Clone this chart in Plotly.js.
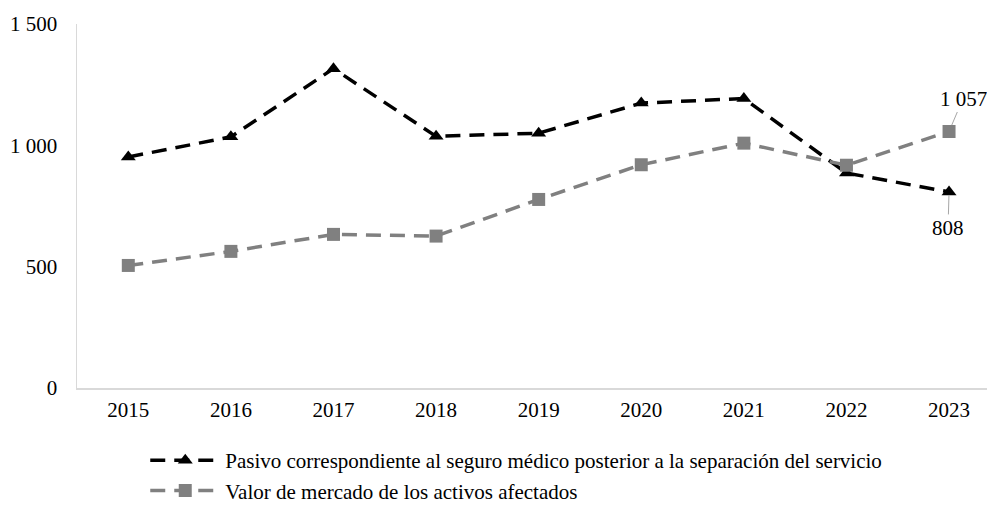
<!DOCTYPE html>
<html>
<head>
<meta charset="utf-8">
<script src="https://cdn.plot.ly/plotly-3.0.1.min.js"></script>
<style>html,body{margin:0;padding:0;background:#fff;}#chart{width:987px;height:506px;}</style>
</head>
<body>
<div id="chart"></div>
<script>
const years = ["2015","2016","2017","2018","2019","2020","2021","2022","2023"];
const pasivo = [952, 1035, 1316, 1037, 1050, 1174, 1193, 886, 808];
const activos = [505, 563, 633, 626, 777, 920, 1009, 918, 1057];
const yTicks = [0, 500, 1000, 1500];
const name1 = "Pasivo correspondiente al seguro médico posterior a la separación del servicio";
const name2 = "Valor de mercado de los activos afectados";

const fmt = v => String(v).replace(/\B(?=(\d{3})+(?!\d))/g, " ");
const FONT = "Liberation Serif, Times New Roman, serif";
const FS = 21;
const last = years.length - 1;

const traces = [
  {x: years, y: pasivo, name: name1, type: "scatter", mode: "lines+markers",
   line: {color: "#000000", width: 3.5, dash: "15px,9px"},
   marker: {symbol: "triangle-up", size: 13, color: "#000000"}},
  {x: years, y: activos, name: name2, type: "scatter", mode: "lines+markers",
   line: {color: "#808080", width: 3.5, dash: "15px,9px"},
   marker: {symbol: "square", size: 13, color: "#808080"}}
];

const layout = {
  width: 987, height: 506,
  margin: {l: 77, r: 0, t: 24, b: 118, autoexpand: false},
  paper_bgcolor: "#fff", plot_bgcolor: "#fff",
  separators: ", ",
  font: {family: FONT, size: FS, color: "#000"},
  showlegend: true,
  legend: {orientation: "v", x: 0.075, xanchor: "left", y: -0.143, yanchor: "top",
           font: {family: FONT, size: FS, color: "#000"}, tracegroupgap: 1, itemwidth: 70},
  xaxis: {type: "category", range: [-0.5, 8.37], showgrid: false, zeroline: false,
          showline: true, linecolor: "#d9d9d9", linewidth: 1.5, ticks: "", ticklen: 0,
          ticklabelstandoff: 2,
          tickfont: {family: FONT, size: FS, color: "#000"}},
  yaxis: {range: [0, 1500], tickvals: yTicks, ticktext: yTicks.map(fmt),
          showgrid: false, zeroline: false, showline: true, linecolor: "#d9d9d9", linewidth: 1.5,
          ticks: "", ticklabelstandoff: 14,
          tickfont: {family: FONT, size: FS, color: "#000"}},
  annotations: [
    {x: last, y: activos[last], xref: "x", yref: "y", text: fmt(activos[last]),
     showarrow: true, arrowhead: 0, arrowwidth: 1, arrowcolor: "#a6a6a6",
     ax: 14, ay: -33, standoff: 7, font: {family: FONT, size: FS, color: "#000"}},
    {x: last, y: pasivo[last], xref: "x", yref: "y", text: fmt(pasivo[last]),
     showarrow: true, arrowhead: 0, arrowwidth: 1, arrowcolor: "#a6a6a6",
     ax: -1, ay: 36, standoff: 3, font: {family: FONT, size: FS, color: "#000"}}
  ]
};

Plotly.newPlot("chart", traces, layout, {displayModeBar: false, staticPlot: true});
</script>
</body>
</html>
